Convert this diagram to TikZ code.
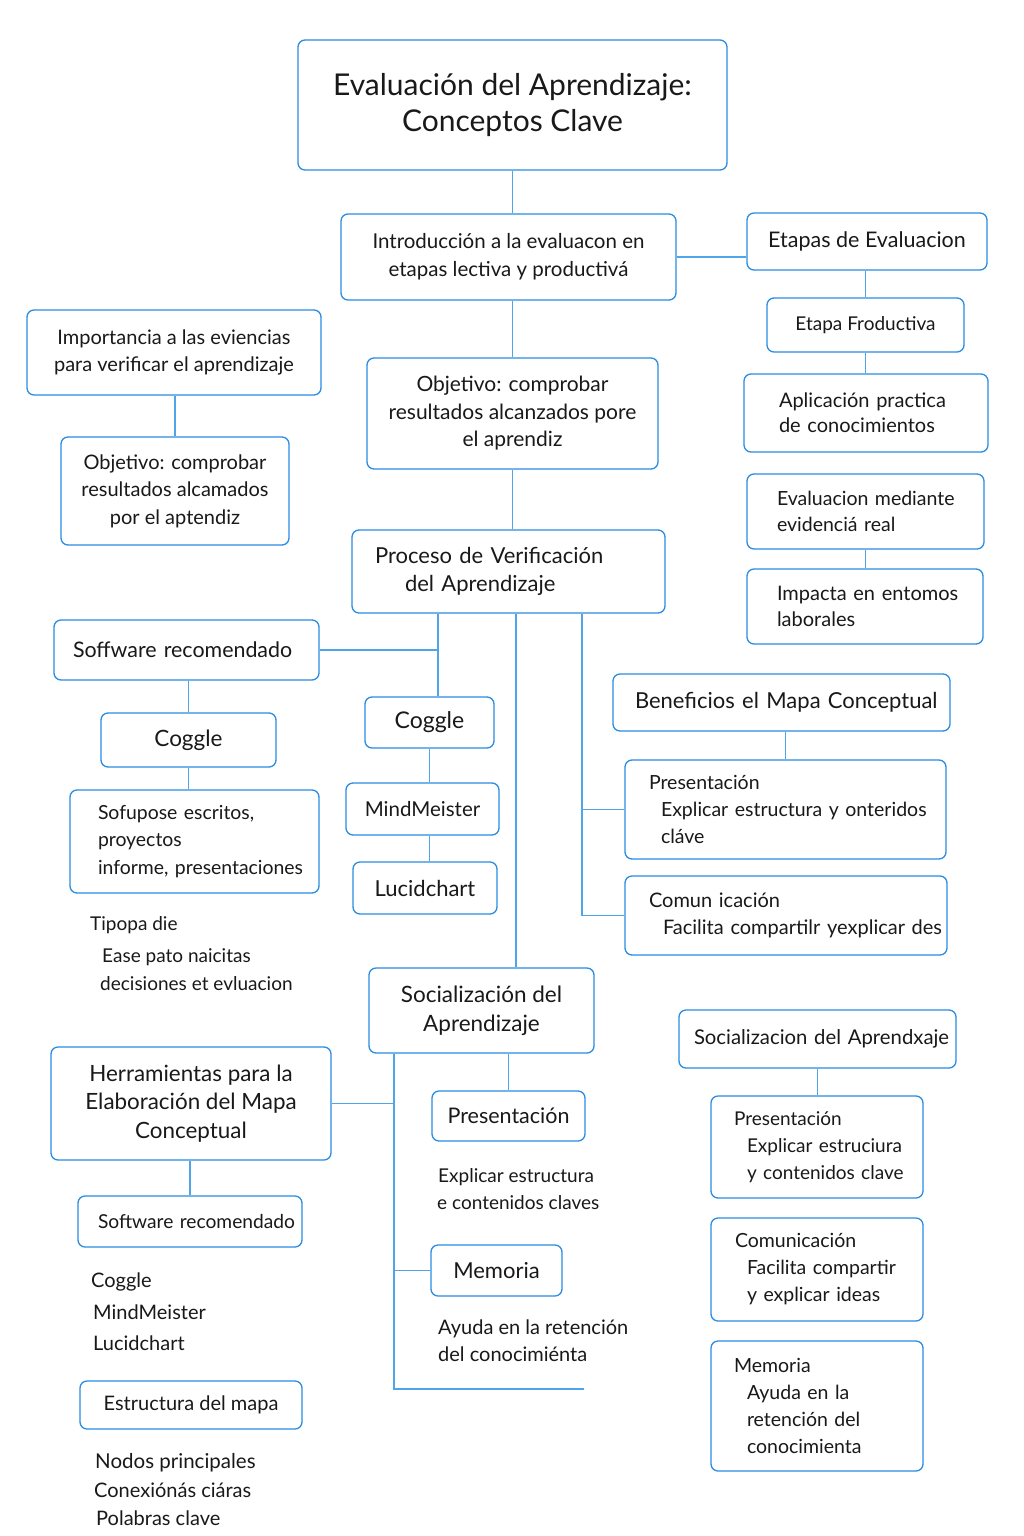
\documentclass[tikz,border=0pt]{standalone}
\usepackage{fontspec}
\setmainfont{Lato}
\usepackage{tikz}
\usetikzlibrary{positioning}
\definecolor{azul}{RGB}{42,140,226}
\definecolor{linea}{RGB}{80,165,232}
\definecolor{tinta}{RGB}{25,25,25}
\tikzset{
  caja/.style = {draw=azul, line width=1.3pt, rounded corners=7pt, fill=white,
    text=tinta, inner ysep=0pt, font=\fontsize{20}{27}\selectfont},% caja base
  caja_c/.style = {caja, align=center},% caja, texto centrado
  caja_l/.style = {caja, align=left, inner xsep=6pt},% caja, texto a la izquierda
  texto/.style = {anchor=west, inner sep=0pt, text=tinta, text height=14pt,
    text depth=4pt, font=\fontsize{20}{27}\selectfont},% texto suelto
  enlace/.style = {draw=linea, line width=1.3pt}% conector
}
\begin{document}
\begin{tikzpicture}[x=1pt,y=-1pt]
\fill [white] (0,0) rectangle (1024,1536);
\useasboundingbox (0,0) rectangle (1024,1536);
% columna central
\node [caja_c, minimum width=429pt, minimum height=130pt,
  font=\fontsize{30}{36}\selectfont] (titulo) at (512.5,105)
  {Evaluación del Aprendizaje:\\Conceptos Clave};
\node [caja_c, minimum width=335pt, minimum height=86pt,
  font=\fontsize{20.5}{28}\selectfont] (intro) at (508.5,257)
  {Introducción a la evaluacon en\\etapas lectiva y productivá};
\node [caja_c, minimum width=291pt, minimum height=111pt,
  font=\fontsize{21}{27.5}\selectfont] (objC) at (512.5,413.5)
  {Objetivo: comprobar\\resultados alcanzados pore\\el aprendiz};
\node [caja_l, minimum width=313pt, minimum height=83pt, text width=301pt,
  font=\fontsize{22}{28}\selectfont] (proc) at (508.5,571.5)
  {\hspace*{17pt}Proceso de Verificación\\\hspace*{47pt}del Aprendizaje};
\node [caja_c, minimum width=129pt, minimum height=51pt,
  font=\fontsize{23}{27}\selectfont] (cogM) at (429.5,722.5) {Coggle};
\node [caja_c, minimum width=153pt, minimum height=52pt,
  font=\fontsize{20.5}{27}\selectfont] (mind) at (422.5,809) {MindMeister};
\node [caja_c, minimum width=144pt, minimum height=52pt,
  font=\fontsize{22}{27}\selectfont] (lucid) at (425,888) {Lucidchart};
\node [caja_c, minimum width=225pt, minimum height=85pt,
  font=\fontsize{22.5}{29}\selectfont] (socC) at (481.5,1010.5)
  {Socialización del\\Aprendizaje};
\node [caja_c, minimum width=153pt, minimum height=50pt,
  font=\fontsize{21.5}{27}\selectfont] (presC) at (508.5,1116) {Presentación};
\node [caja_c, minimum width=131pt, minimum height=51pt,
  font=\fontsize{22}{27}\selectfont] (memC) at (496.5,1270.5) {Memoria};
\node [texto, font=\fontsize{19}{27}\selectfont] (expl1) at (438,1177) {Explicar estructura};
\node [texto, font=\fontsize{19}{27}\selectfont] (expl2) at (437,1204) {e contenidos claves};
\node [texto] (ayu1) at (438,1329) {Ayuda en la retención};
\node [texto] (ayu2) at (438,1356) {del conocimiénta};
% columna derecha
\node [caja_c, minimum width=240pt, minimum height=57pt,
  font=\fontsize{21.5}{27}\selectfont] (etapas) at (867,241.5) {Etapas de Evaluacion};
\node [caja_c, minimum width=197pt, minimum height=54pt,
  font=\fontsize{19}{22}\selectfont] (prod) at (865.5,325) {Etapa Froductiva};
\node [caja_l, minimum width=244pt, minimum height=78pt, text width=232pt,
  font=\fontsize{20}{25}\selectfont] (aplic) at (866,413)
  {\hspace*{29pt}Aplicación practica\\\hspace*{29pt}de conocimientos};
\node [caja_l, minimum width=237pt, minimum height=75pt, text width=225pt,
  font=\fontsize{19.5}{26}\selectfont] (evid) at (865.5,511.5)
  {\hspace*{24pt}Evaluacion mediante\\\hspace*{24pt}evidenciá real};
\node [caja_l, minimum width=236pt, minimum height=75pt, text width=224pt,
  font=\fontsize{20}{26}\selectfont] (impac) at (865,606.5)
  {\hspace*{24pt}Impacta en entomos\\\hspace*{24pt}laborales};
\node [caja_l, minimum width=337pt, minimum height=57pt, text width=325pt,
  font=\fontsize{22}{27}\selectfont] (benef) at (781.5,702.5)
  {\hspace*{16pt}Beneficios el Mapa Conceptual};
\node [caja_l, minimum width=321pt, minimum height=99pt, text width=309pt,
  font=\fontsize{19.5}{27}\selectfont] (presR) at (785.5,809.5)
  {\hspace*{18pt}Presentación\\\hspace*{30pt}Explicar estructura y onteridos\\\hspace*{30pt}cláve};
\node [caja_l, minimum width=322pt, minimum height=79pt, text width=318pt,
  inner xsep=2pt] (comR) at (786,915.5)
  {\hspace*{22pt}Comun icación\\\hspace*{36pt}Facilita compartilr yexplicar des};
\node [caja_l, minimum width=277pt, minimum height=58pt, text width=269pt,
  inner xsep=4pt, font=\fontsize{20.3}{27}\selectfont] (socR) at (817.5,1039)
  {\hspace*{11pt}Socializacion del Aprendxaje};
\node [caja_l, minimum width=212pt, minimum height=102pt, text width=200pt,
  font=\fontsize{19}{27}\selectfont] (presR2) at (817,1147)
  {\hspace*{17pt}Presentación\\\hspace*{30pt}Explicar estruciura\\\hspace*{30pt}y contenidos clave};
\node [caja_l, minimum width=212pt, minimum height=103pt, text width=200pt,
  font=\fontsize{19.5}{27}\selectfont] (comR2) at (817,1269.5)
  {\hspace*{18pt}Comunicación\\\hspace*{30pt}Facilita compartir\\\hspace*{30pt}y explicar ideas};
\node [caja_l, minimum width=212pt, minimum height=130pt, text width=200pt,
  font=\fontsize{19.5}{27}\selectfont] (memR2) at (817,1406)
  {\hspace*{17pt}Memoria\\\hspace*{30pt}Ayuda en la\\\hspace*{30pt}retención del\\\hspace*{30pt}conocimienta};
% columna izquierda
\node [caja_c, minimum width=294pt, minimum height=85pt] (import) at (174,352.5)
  {Importancia a las eviencias\\para verificar el aprendizaje};
\node [caja_c, minimum width=228pt, minimum height=108pt,
  font=\fontsize{20}{27.5}\selectfont] (objL) at (175,491)
  {Objetivo: comprobar\\resultados alcamados\\por el aptendiz};
\node [caja_l, minimum width=265pt, minimum height=60pt, text width=253pt,
  font=\fontsize{21.4}{27}\selectfont] (softL) at (186.5,650)
  {\hspace*{13pt}Soffware recomendado};
\node [caja_c, minimum width=175pt, minimum height=54pt,
  font=\fontsize{22.5}{27}\selectfont] (cogL) at (188.5,740) {Coggle};
\node [caja_l, minimum width=249pt, minimum height=103pt, text width=237pt,
  font=\fontsize{19.4}{27.5}\selectfont] (sofu) at (194.5,841.5)
  {\hspace*{22pt}Sofupose escritos,\\\hspace*{22pt}proyectos\\\hspace*{22pt}informe, presentaciones};
\node [texto, font=\fontsize{19}{27}\selectfont] (tip1) at (90,925) {Tipopa die};
\node [texto, font=\fontsize{19}{27}\selectfont] (tip2) at (102,957) {Ease pato naicitas};
\node [texto, font=\fontsize{19}{27}\selectfont] (tip3) at (100,985) {decisiones et evluacion};
\node [caja_c, minimum width=280pt, minimum height=113pt,
  font=\fontsize{22.4}{28.5}\selectfont] (herr) at (191,1103.5)
  {Herramientas para la\\Elaboración del Mapa\\Conceptual};
\node [caja_l, minimum width=224pt, minimum height=51pt, text width=220pt,
  inner xsep=2pt, font=\fontsize{19.2}{27}\selectfont] (softB) at (190,1221.5)
  {\hspace*{18pt}Software recomendado};
\node [texto] (sw1) at (91,1282) {Coggle};
\node [texto] (sw2) at (93,1314) {MindMeister};
\node [texto] (sw3) at (93,1345) {Lucidchart};
\node [caja_c, minimum width=222pt, minimum height=48pt] (estr) at (191,1405) {Estructura del mapa};
\node [texto, font=\fontsize{20.5}{27}\selectfont] (nod1) at (95,1463) {Nodos principales};
\node [texto] (nod2) at (94,1492) {Conexiónás ciáras};
\node [texto] (nod3) at (96,1520) {Polabras clave};
% puntos de paso
\coordinate (j1) at (438,655);
\coordinate (j2) at (516,968);
\coordinate (j3) at (582,915.5);
\coordinate (j4) at (394,1389);
\coordinate (e4) at (584,1389);
% conectores
\draw [enlace] (titulo.south) -- (titulo.south |- intro.north);
\draw [enlace] (intro.east) -- (intro.east -| etapas.west);
\draw [enlace] (etapas.south -| prod.north) -- (prod.north);
\draw [enlace] (prod.south) -- (prod.south |- aplic.north);
\draw [enlace] (evid.south) -- (evid.south |- impac.north);
\draw [enlace] (import.south -| objL.north) -- (objL.north);
\draw [enlace] (objC.north |- intro.south) -- (objC.north);
\draw [enlace] (objC.south) -- (objC.south |- proc.north);
\draw [enlace] (proc.south -| j1) -- (cogM.north -| j1);
\draw [enlace] (softL.east) -- (softL.east -| j1);
\draw [enlace] (cogM.south) -- (cogM.south |- mind.north);
\draw [enlace] (cogM.south |- mind.south) -- (cogM.south |- lucid.north);
\draw [enlace] (softL.south -| cogL.north) -- (cogL.north);
\draw [enlace] (cogL.south) -- (cogL.south |- sofu.north);
\draw [enlace] (proc.south -| j2) -- (socC.north -| j2);
\draw [enlace] (proc.south -| j3) -- (j3) -- (comR.west |- j3);
\draw [enlace] (presR.west -| j3) -- (presR.west);
\draw [enlace] (benef.south -| presR.north) -- (presR.north);
\draw [enlace] (socC.south -| presC.north) -- (presC.north);
\draw [enlace] (socC.south -| j4) -- (j4) -- (e4);
\draw [enlace] (herr.east) -- (herr.east -| j4);
\draw [enlace] (memC.west -| j4) -- (memC.west);
\draw [enlace] (herr.south -| softB.north) -- (softB.north);
\draw [enlace] (socR.south) -- (socR.south |- presR2.north);
\end{tikzpicture}
\end{document}
